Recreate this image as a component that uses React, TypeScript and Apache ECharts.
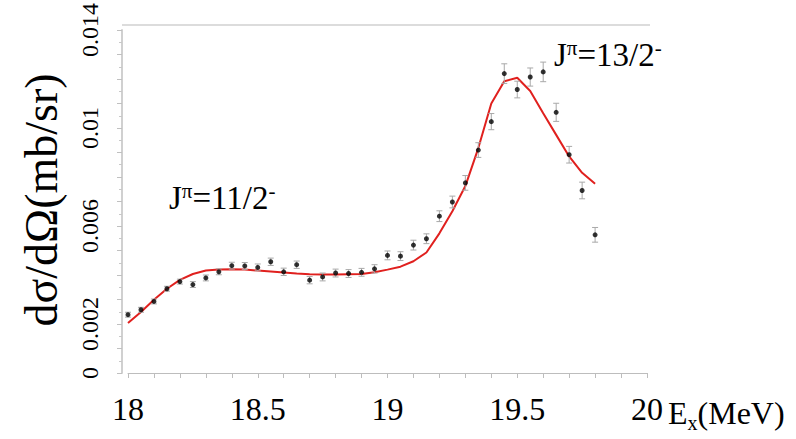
import React, { useEffect, useRef } from "react";
import * as echarts from "echarts";

// Excitation energies (MeV)
const energies = [
  18.0, 18.05, 18.1, 18.15, 18.2, 18.25, 18.3, 18.35, 18.4, 18.45, 18.5, 18.55,
  18.6, 18.65, 18.7, 18.75, 18.8, 18.85, 18.9, 18.95, 19.0, 19.05, 19.1, 19.15,
  19.2, 19.25, 19.3, 19.35, 19.4, 19.45, 19.5, 19.55, 19.6, 19.65, 19.7, 19.75, 19.8,
];
// Measured cross sections (mb/sr)
const measured = [
  0.00238, 0.00258, 0.00292, 0.00344, 0.00373, 0.00361, 0.00388, 0.00413, 0.00438,
  0.00437, 0.00431, 0.00454, 0.00413, 0.00442, 0.00379, 0.00392, 0.00408, 0.00406,
  0.00411, 0.00425, 0.0048, 0.00477, 0.00522, 0.00548, 0.0064, 0.00698, 0.00776,
  0.0091, 0.01026, 0.01222, 0.01157, 0.01208, 0.01229, 0.01064, 0.00891, 0.00745,
  0.00564,
];
// Error bars (mb/sr)
const errors = [
  0.0001, 0.0001, 0.0001, 0.0001, 0.0001, 0.00012, 0.00012, 0.00012, 0.00014,
  0.00014, 0.00014, 0.00015, 0.00015, 0.00015, 0.00015, 0.00016, 0.00016, 0.00016,
  0.00016, 0.00017, 0.00018, 0.00018, 0.0002, 0.0002, 0.00022, 0.00024, 0.0003,
  0.0003, 0.00033, 0.0004, 0.00034, 0.00037, 0.0004, 0.00037, 0.00034, 0.00034,
  0.0003,
];
// Calculated curve (mb/sr)
const calculated = [
  0.00204, 0.00249, 0.00299, 0.00344, 0.0038, 0.00404, 0.00418, 0.00422, 0.00423,
  0.00422, 0.00418, 0.00414, 0.0041, 0.00406, 0.00403, 0.00402, 0.00402, 0.00403,
  0.00404, 0.00411, 0.00422, 0.00434, 0.00456, 0.00492, 0.0057, 0.0066, 0.00763,
  0.00918, 0.011, 0.01191, 0.01205, 0.01151, 0.0106, 0.00972, 0.00884, 0.00817,
  0.00772,
];
// Tick labels
const yLabels = [0, 0.002, 0.006, 0.01, 0.014];
const xLabels = [18, 18.5, 19, 19.5, 20];

const SERIF = "Liberation Serif";

export default function App() {
  const ref = useRef<HTMLDivElement>(null);
  useEffect(() => {
    if (!ref.current) return;
    const chart = echarts.init(ref.current, null, { renderer: "svg" });
    const errData = energies.map((e, i) => [e, measured[i], errors[i]]);
    const richJ = {
      a: { fontFamily: SERIF, fontSize: 33, fill: "#000", lineHeight: 34, verticalAlign: "bottom" },
      s: { fontFamily: SERIF, fontSize: 21, fill: "#000", lineHeight: 34, verticalAlign: "top", padding: [0, 0, 14, 0] },
    };
    chart.setOption({
      animation: false,
      backgroundColor: "#ffffff",
      textStyle: { fontFamily: SERIF },
      grid: { left: 128, right: 149, top: 28, bottom: 66 },
      xAxis: {
        type: "value",
        min: 18,
        max: 20,
        interval: 0.1,
        offset: 3,
        axisLine: { show: true, lineStyle: { color: "#bdbdbd", width: 1 } },
        axisTick: { show: true, length: 5, lineStyle: { color: "#bdbdbd" } },
        splitLine: { show: false },
        axisLabel: {
          margin: 17,
          color: "#000",
          fontFamily: SERIF,
          fontSize: 32,
          showMinLabel: true,
          showMaxLabel: true,
          formatter: (v: number) => {
            const hit = xLabels.find((l) => Math.abs(l - v) < 1e-6);
            return hit !== undefined ? String(hit) : "";
          },
        },
      },
      yAxis: {
        type: "value",
        min: 0,
        max: 0.014,
        interval: 0.001,
        offset: 6,
        axisLine: { show: true, lineStyle: { color: "#d0d0d0", width: 2 } },
        axisTick: { show: true, length: 5, lineStyle: { color: "#c0c0c0" } },
        minorTick: { show: true, splitNumber: 2, length: 3, lineStyle: { color: "#c8c8c8" } },
        splitLine: { show: false },
        axisLabel: {
          rotate: 90,
          margin: 20,
          color: "#000",
          fontFamily: SERIF,
          fontSize: 24,
          formatter: (v: number) => {
            const hit = yLabels.find((l) => Math.abs(l - v) < 1e-9);
            return hit !== undefined ? String(hit) : "";
          },
        },
      },
      graphic: [
        {
          type: "line",
          shape: { x1: 122, y1: 25, x2: 650, y2: 25 },
          style: { stroke: "#d0d0d0", lineWidth: 1.5 },
          silent: true,
        },
        {
          type: "text",
          x: 41,
          y: 200,
          rotation: Math.PI / 2,
          style: {
            text: "dσ/dΩ(mb/sr)",
            fontFamily: SERIF,
            fontSize: 46,
            fill: "#000",
            align: "center",
            verticalAlign: "middle",
          },
        },
        {
          type: "text",
          x: 169,
          y: 180,
          style: { text: "{a|J}{s|π}{a|=11/2}{s|-}", verticalAlign: "top", rich: richJ },
        },
        {
          type: "text",
          x: 554,
          y: 37,
          style: { text: "{a|J}{s|π}{a|=13/2}{s|-}", verticalAlign: "top", rich: richJ },
        },
        {
          type: "text",
          x: 668,
          y: 395,
          style: {
            text: "{a|E}{b|x}{a|(MeV)}",
            verticalAlign: "top",
            rich: {
              a: { fontFamily: SERIF, fontSize: 32, fill: "#000", lineHeight: 34, verticalAlign: "bottom" },
              b: { fontFamily: SERIF, fontSize: 20, fill: "#000", lineHeight: 34, verticalAlign: "bottom", padding: [0, 0, -4, 0] },
            },
          },
        },
      ],
      series: [
        {
          type: "line",
          data: energies.map((e, i) => [e, calculated[i]]),
          showSymbol: false,
          symbol: "none",
          lineStyle: { color: "#e0201e", width: 2 },
          z: 2,
        },
        {
          type: "custom",
          data: errData,
          z: 3,
          renderItem: (params: any, api: any) => {
            const x = api.value(0);
            const y = api.value(1);
            const e = api.value(2);
            const hi = api.coord([x, y + e]);
            const lo = api.coord([x, y - e]);
            const hw = 3;
            const st = { stroke: "#a8a8a8", lineWidth: 1 };
            return {
              type: "group",
              children: [
                { type: "line", shape: { x1: hi[0], y1: hi[1], x2: lo[0], y2: lo[1] }, style: st },
                { type: "line", shape: { x1: hi[0] - hw, y1: hi[1], x2: hi[0] + hw, y2: hi[1] }, style: st },
                { type: "line", shape: { x1: lo[0] - hw, y1: lo[1], x2: lo[0] + hw, y2: lo[1] }, style: st },
              ],
            };
          },
        },
        {
          type: "scatter",
          data: energies.map((e, i) => [e, measured[i]]),
          symbol: "circle",
          symbolSize: 5,
          itemStyle: { color: "#000" },
          z: 4,
        },
      ],
    });
    return () => chart.dispose();
  }, []);
  return (
    <div
      ref={ref}
      style={{ position: "fixed", left: 0, top: 0, width: 796, height: 439 }}
    />
  );
}
